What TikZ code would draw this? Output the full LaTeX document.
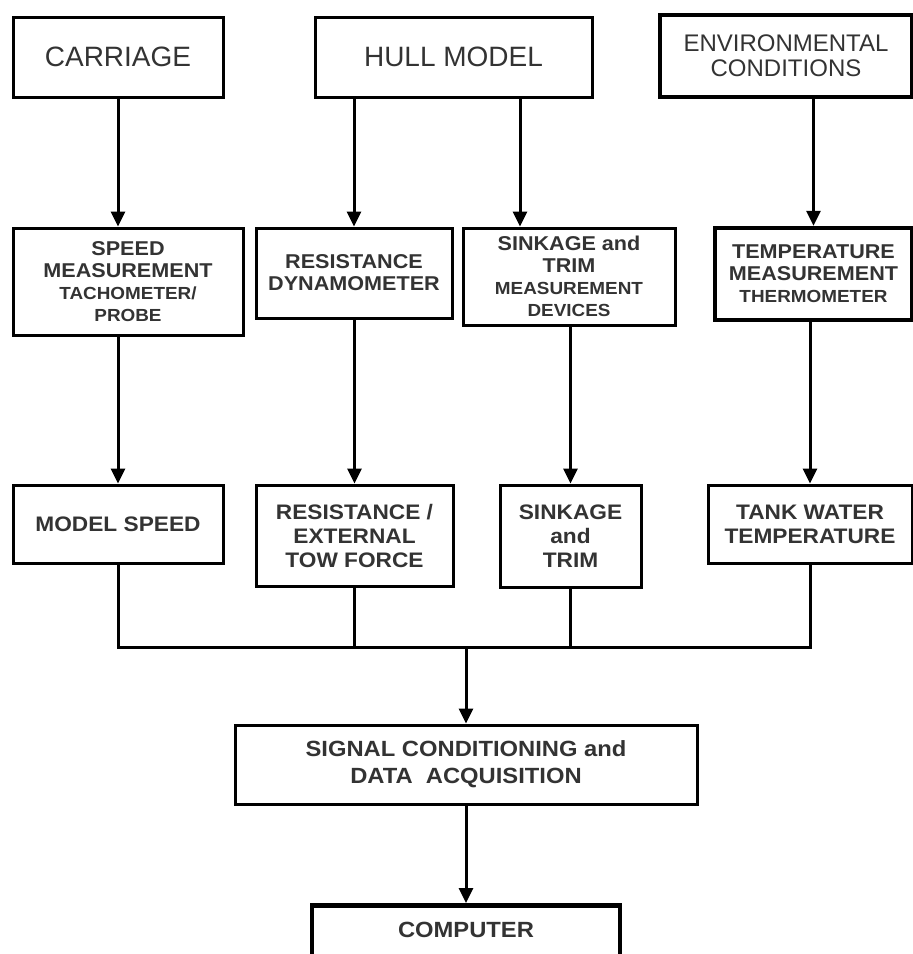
\documentclass[tikz,border=0pt]{standalone}
\usepackage{fontspec}
\setmainfont{Liberation Sans}
\newfontfamily\boxfont[FakeStretch=1.08]{Liberation Sans}
\usetikzlibrary{arrows.meta,calc}

\newcommand{\headsize}{\fontsize{28}{31}\selectfont}
\newcommand{\envsize}{\fontsize{24}{25}\selectfont}
\newcommand{\midsize}{\boxfont\bfseries\fontsize{20}{22}\selectfont}
\newcommand{\lowsize}{\boxfont\bfseries\fontsize{17.5}{22}\selectfont}
\newcommand{\outsize}{\boxfont\bfseries\fontsize{21}{24}\selectfont}
\newcommand{\daqsize}{\boxfont\bfseries\fontsize{22}{27}\selectfont}

\tikzset{
  blk/.style={draw, line width=3pt, align=center, inner sep=0pt, text=black!80},
  thk/.style={blk, line width=4.5pt},
  lnk/.style={line width=3pt},
  arr/.style={lnk, -{Triangle[length=15pt,width=14pt]}},
}

\begin{document}
\begin{tikzpicture}[x=1pt, y=-1pt, line join=miter]
  \useasboundingbox (0,0) rectangle (913,954);
  \clip (0,0) rectangle (913,954);

  % top row
  \node[blk, font=\headsize, minimum width=210pt, minimum height=80pt] (carriage) at (118,57) {CARRIAGE};
  \node[blk, font=\headsize, minimum width=277pt, minimum height=80pt] (hull) at (453.5,57) {HULL MODEL};
  \node[thk, font=\envsize, minimum width=252pt, minimum height=82pt] (env) at (786,56) {ENVIRONMENTAL\\ CONDITIONS};

  % measurement devices
  \node[blk, font=\midsize, minimum width=230pt, minimum height=107pt] (speed) at (128,281.5)
    {SPEED\\ MEASUREMENT\\ \lowsize TACHOMETER/\\ \lowsize PROBE};
  \node[blk, font=\midsize, minimum width=196pt, minimum height=90pt] (dyn) at (354,273)
    {RESISTANCE\\ DYNAMOMETER};
  \node[blk, font=\midsize, minimum width=212pt, minimum height=97pt] (sinkdev) at (569,276.5)
    {SINKAGE and\\ TRIM\\ \lowsize MEASUREMENT\\ \lowsize DEVICES};
  \node[thk, font=\midsize, minimum width=197pt, minimum height=92pt] (temp) at (813.5,274)
    {TEMPERATURE\\ MEASUREMENT\\ \lowsize THERMOMETER};

  % measured quantities
  \node[blk, font=\outsize, minimum width=210pt, minimum height=78pt] (mspeed) at (118,524) {MODEL SPEED};
  \node[blk, font=\outsize, minimum width=197pt, minimum height=101pt] (restow) at (354.5,535.5)
    {RESISTANCE /\\ EXTERNAL\\ TOW FORCE};
  \node[blk, font=\outsize, minimum width=141pt, minimum height=102pt] (sinktrim) at (570.5,536)
    {SINKAGE\\ and\\ TRIM};
  \node[blk, font=\outsize, minimum width=204pt, minimum height=78pt] (tank) at (810,524)
    {TANK WATER\\ TEMPERATURE};

  % acquisition
  \node[blk, font=\daqsize, minimum width=462pt, minimum height=79pt] (signal) at (466,764.5)
    {SIGNAL CONDITIONING and\\ DATA\ \ ACQUISITION};
  \node[thk, font=\daqsize, anchor=north, minimum width=308pt, text height=17pt, text depth=70pt, inner ysep=15pt]
    (computer) at (466,903) {COMPUTER};

  \coordinate (hk) at (520,0);
  \coordinate (bus) at (466,647);

  % arrows
  \draw[arr] (carriage.south) -- (carriage.south |- speed.north);
  \draw[arr] (dyn.north |- hull.south) -- (dyn.north);
  \draw[arr] (hull.south -| hk) -- (sinkdev.north -| hk);
  \draw[arr] (temp.north |- env.south) -- (temp.north);

  \draw[arr] (mspeed.north |- speed.south) -- (mspeed.north);
  \draw[arr] (restow.north |- dyn.south) -- (restow.north);
  \draw[arr] (sinktrim.north |- sinkdev.south) -- (sinktrim.north);
  \draw[arr] (tank.north |- temp.south) -- (tank.north);

  \draw[lnk] (mspeed.south) |- (bus) -| (tank.south);
  \draw[lnk] (restow.south) -- (restow.south |- bus);
  \draw[lnk] (sinktrim.south) -- (sinktrim.south |- bus);
  \draw[arr] (bus) -- (signal.north);
  \draw[arr] (signal.south) -- (computer.north);
\end{tikzpicture}
\end{document}
